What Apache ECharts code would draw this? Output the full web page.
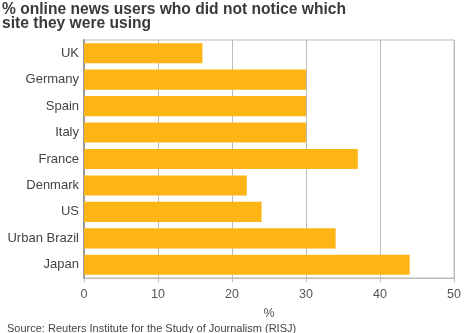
<!DOCTYPE html>
<html><head><meta charset="utf-8">
<script src="https://cdn.jsdelivr.net/npm/echarts@6/dist/echarts.min.js"></script>
<style>html,body{margin:0;padding:0;background:#fff}#c{width:464px;height:333px}</style>
</head><body><div id="c"></div>
<script>
const categories = ["UK","Germany","Spain","Italy","France","Denmark","US","Urban Brazil","Japan"];
const values = [16,30,30,30,37,22,24,34,44];
const xTicks = [0,10,20,30,40,50];
const titleText = "% online news users who did not notice which\nsite they were using";
const sourceText = "Source: Reuters Institute for the Study of Journalism (RISJ)";

const chart = echarts.init(document.getElementById('c'));
const font = '"Liberation Sans", Arial, Helvetica, sans-serif';
chart.setOption({
  animation: false,
  textStyle: {fontFamily: font},
  title: [{
    text: titleText, left: 2, top: 3, padding: 0,
    textStyle: {fontFamily: font, fontSize: 15.6, fontWeight: 'bold', color: '#3a3a3a', lineHeight: 14}
  },{
    text: sourceText, left: 2, top: 318,
    textStyle: {fontFamily: font, fontSize: 11, fontWeight: 'normal', color: '#444'}
  }],
  grid: {left: 84, right: 8, top: 40, bottom: 55, show: true, borderColor: '#bbb', borderWidth: 1},
  xAxis: {
    type: 'value', min: xTicks[0], max: xTicks[xTicks.length-1], interval: 10,
    name: '%', nameLocation: 'middle', nameGap: 29,
    nameTextStyle: {fontFamily: font, fontSize: 12.5, color: '#555'},
    axisLine: {show: true, lineStyle: {color: '#bbb'}},
    axisTick: {show: true, length: 4, lineStyle: {color: '#bbb'}},
    axisLabel: {fontFamily: font, fontSize: 12.5, color: '#555', margin: 10},
    splitLine: {show: true, lineStyle: {color: '#bbb', width: 1}}
  },
  yAxis: {
    type: 'category', data: categories, inverse: true,
    axisLine: {show: true, lineStyle: {color: '#999', width: 2}},
    axisTick: {show: false},
    axisLabel: {fontFamily: font, fontSize: 13, color: '#444', margin: 5}
  },
  series: [{
    type: 'bar', data: values, barCategoryGap: '24%',
    itemStyle: {color: '#fdb515'}
  }]
});
</script></body></html>
